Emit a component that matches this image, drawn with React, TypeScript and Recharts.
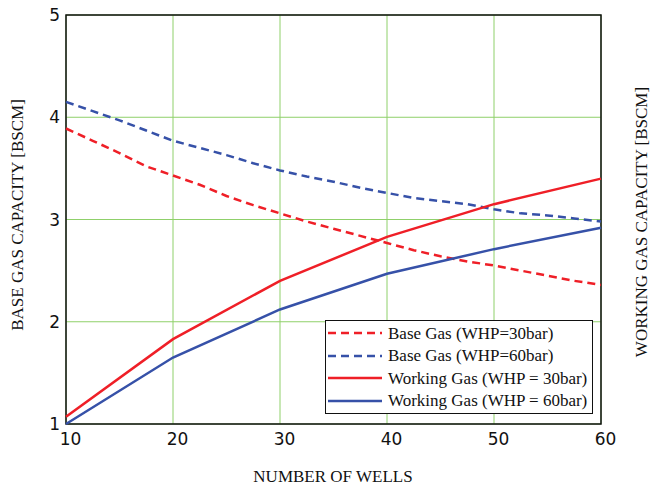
import {
  Line,
  LineChart,
  CartesianGrid,
  ReferenceArea,
  XAxis,
  YAxis,
} from "recharts";

// working gas, evaluated every 10 wells
const workingWells = [10, 20, 30, 40, 50, 60];
const working30 = [1.07, 1.83, 2.4, 2.83, 3.15, 3.4];
const working60 = [1.0, 1.65, 2.12, 2.47, 2.71, 2.92];

// base gas, finer steps
const baseWells = [
  10, 12.5, 15, 17.5, 20, 22.5, 25, 27.5, 30, 32.5, 35, 37.5, 40, 42.5, 45, 47.5,
  50, 52.5, 55, 57.5, 60,
];
const base30 = [
  3.89, 3.77, 3.65, 3.52, 3.43, 3.34, 3.23, 3.14, 3.06, 2.98, 2.91, 2.84, 2.77,
  2.7, 2.64, 2.59, 2.55, 2.5, 2.45, 2.4, 2.36,
];
const base60 = [
  4.15, 4.06, 3.97, 3.87, 3.77, 3.7, 3.63, 3.55, 3.48, 3.42, 3.37, 3.31, 3.26,
  3.21, 3.18, 3.15, 3.1, 3.06, 3.04, 3.01, 2.98,
];

const xTicks = [10, 20, 30, 40, 50, 60];
const yTicks = [1, 2, 3, 4, 5];

const RED = "#ef1f27";
const BLUE = "#3651a8";
const GRID = "#8fd06a";
const SERIF = '"Liberation Serif", "Times New Roman", serif';
const SANS = '"DejaVu Sans", Verdana, sans-serif';

const toPoints = (xs: number[], ys: number[]) =>
  xs.map((wells, i) => ({ wells, value: ys[i] }));

const series = [
  { name: "Base Gas (WHP=30bar)", color: RED, dash: "8 5", data: toPoints(baseWells, base30) },
  { name: "Base Gas (WHP=60bar)", color: BLUE, dash: "8 5", data: toPoints(baseWells, base60) },
  { name: "Working Gas (WHP = 30bar)", color: RED, dash: undefined, data: toPoints(workingWells, working30) },
  { name: "Working Gas (WHP = 60bar)", color: BLUE, dash: undefined, data: toPoints(workingWells, working60) },
];

const tickStyle = { fontSize: 17, fill: "#111", fontFamily: SANS };

// right axis: small inward tick mark plus the label
function RightTick(props: any) {
  const { x, y, payload } = props;
  return (
    <g>
      {payload.value !== 1 && (
        <line x1={x - 11} y1={y} x2={x - 5} y2={y} stroke="#111" strokeWidth={1.5} />
      )}
      <text x={x} y={y} dy="0.355em" textAnchor="start" fontSize={17} fontFamily={SANS} fill="#111">
        {payload.value}
      </text>
    </g>
  );
}

function LegendBox() {
  return (
    <div
      style={{
        position: "absolute",
        left: 325,
        top: 320,
        width: 262,
        border: "1.5px solid #111",
        background: "#fff",
        padding: "1px 2px",
        fontFamily: SERIF,
        fontSize: 17,
        lineHeight: "17px",
        color: "#111",
      }}
    >
      {series.map((s) => (
        <div key={s.name} style={{ display: "flex", alignItems: "center", height: 22.5 }}>
          <svg width={54} height={10} style={{ marginRight: 6, flex: "none" }}>
            <line x1={0} y1={5} x2={54} y2={5} stroke={s.color} strokeWidth={2.5} strokeDasharray={s.dash} />
          </svg>
          <span style={{ whiteSpace: "nowrap" }}>{s.name}</span>
        </div>
      ))}
    </div>
  );
}

export default function App() {
  return (
    <div style={{ position: "absolute", left: 0, top: 0, width: 657, height: 487, background: "#fff" }}>
      <LineChart width={657} height={487} margin={{ top: 15, right: 26, left: 36, bottom: 33 }}>
        <CartesianGrid yAxisId="left" stroke={GRID} strokeWidth={1} horizontalValues={yTicks} verticalValues={xTicks} />
        <XAxis
          dataKey="wells"
          type="number"
          domain={[10, 60]}
          ticks={xTicks}
          allowDuplicatedCategory={false}
          height={30}
          tickSize={0}
          tickMargin={9}
          axisLine={false}
          tick={{ ...tickStyle, dx: 4.5 }}
          label={{
            content: () => (
              <text x={333} y={482} textAnchor="middle" fontFamily={SERIF} fontSize={17} fill="#111">
                NUMBER OF WELLS
              </text>
            ),
          }}
        />
        <YAxis
          yAxisId="left"
          type="number"
          domain={[1, 5]}
          ticks={yTicks}
          width={30}
          tickSize={0}
          tickMargin={6}
          axisLine={false}
          tick={tickStyle}
          label={{
            content: () => (
              <text
                x={0}
                y={0}
                transform="translate(23 215) rotate(-90)"
                textAnchor="middle"
                fontFamily={SERIF}
                fontSize={17}
                fill="#111"
              >
                BASE GAS CAPACITY [BSCM]
              </text>
            ),
          }}
        />
        <YAxis
          yAxisId="right"
          orientation="right"
          type="number"
          domain={[1, 5]}
          ticks={yTicks}
          width={30}
          tickSize={0}
          tickMargin={5}
          axisLine={false}
          tick={<RightTick />}
          label={{
            content: () => (
              <text
                x={0}
                y={0}
                transform="translate(647 222) rotate(-90)"
                textAnchor="middle"
                fontFamily={SERIF}
                fontSize={17}
                fill="#111"
              >
                WORKING GAS CAPACITY [BSCM]
              </text>
            ),
          }}
        />
        {series.map((s) => (
          <Line
            key={s.name}
            yAxisId="left"
            data={s.data}
            dataKey="value"
            name={s.name}
            type="linear"
            stroke={s.color}
            strokeWidth={2.5}
            strokeDasharray={s.dash}
            dot={false}
            activeDot={false}
            isAnimationActive={false}
          />
        ))}
        <ReferenceArea
          yAxisId="left"
          x1={10}
          x2={60}
          y1={1}
          y2={5}
          fill="none"
          stroke="#111"
          strokeWidth={1.5}
          ifOverflow="visible"
        />
      </LineChart>
      <LegendBox />
    </div>
  );
}
